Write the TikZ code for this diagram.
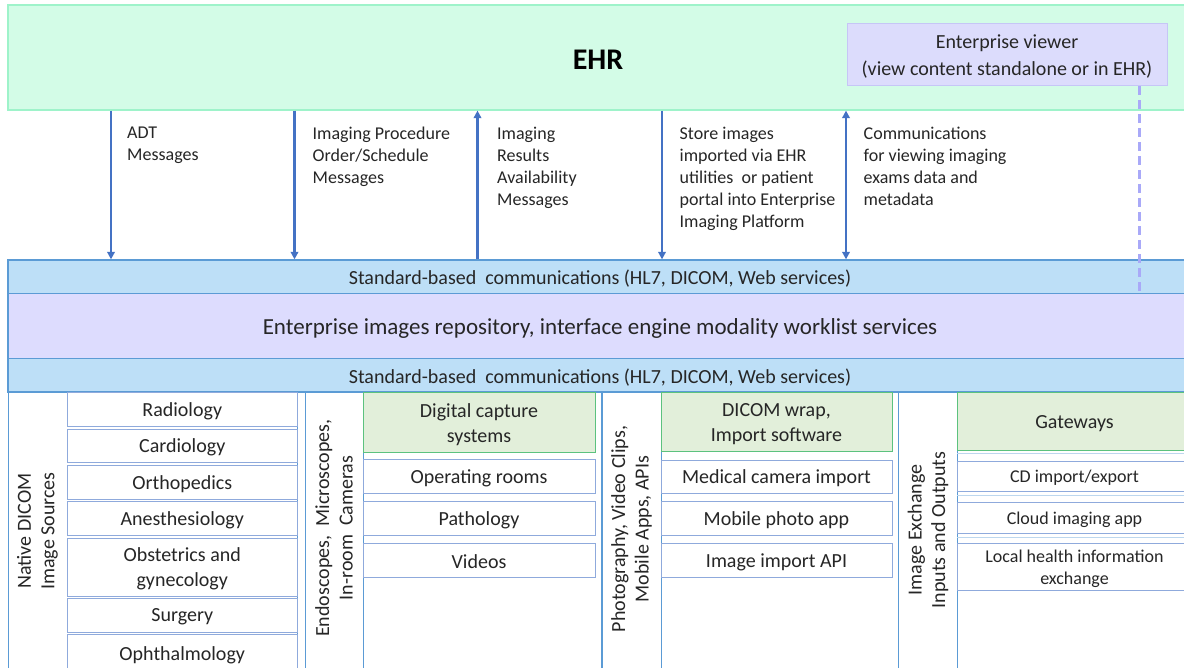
\documentclass[tikz,border=0pt]{standalone}
\usepackage{fontspec}
\setmainfont{Carlito}
\usetikzlibrary{arrows.meta}

\definecolor{ehrfill}{HTML}{D3FCE7}
\definecolor{ehrline}{HTML}{9EF3CA}
\definecolor{viewfill}{HTML}{DCDCFC}
\definecolor{viewline}{HTML}{C6C6F6}
\definecolor{arrowblue}{HTML}{4472C4}
\definecolor{dashpurple}{HTML}{A9A9F8}
\definecolor{bandfill}{HTML}{BDDFF7}
\definecolor{bandline}{HTML}{5B9BD5}
\definecolor{repofill}{HTML}{DDDCFE}
\definecolor{greenfill}{HTML}{E2EFDA}
\definecolor{greenline}{HTML}{5CC27E}
\definecolor{itemline}{HTML}{8FAADC}
\definecolor{colline}{HTML}{5B9BD5}
\definecolor{faintline}{HTML}{BDD7EE}
\definecolor{textgray}{HTML}{262626}

% rectangle from its two corners, with its text set slightly low so the
% capitals sit on the middle: name, style, x1, y1, x2, y2, text
\newcommand\boxnode[7]{%
  \node[#2, minimum width={#5-#3}, minimum height={#6-#4}] (#1)
    at ({(#3+#5)/2},{(#4+#6)/2}) {};
  \node[#2, draw=none, fill=none, minimum width=0pt, minimum height=0pt]
    (#1-text) at ([yshift=-2pt]#1.center) {#7};}

\tikzset{
  cell/.style={draw, rectangle, inner sep=0pt, align=center, text=textgray},
  ehrbox/.style={cell, fill=ehrfill, draw=ehrline, line width=1.2pt},
  viewbox/.style={cell, fill=viewfill, draw=viewline, line width=1pt,
    font=\fontsize{20}{27}\selectfont},
  band/.style={cell, fill=bandfill, draw=bandline, line width=1.3pt,
    font=\fontsize{20}{24}\selectfont},
  repo/.style={cell, fill=repofill, draw=bandline, line width=1.3pt,
    font=\fontsize{23}{27}\selectfont},
  item/.style={cell, draw=itemline, line width=1pt,
    font=\fontsize{20}{24.5}\selectfont},
  smallitem/.style={item, font=\fontsize{18}{22.5}\selectfont},
  greenbox/.style={cell, fill=greenfill, draw=greenline, line width=1pt,
    font=\fontsize{20}{24.5}\selectfont},
  colframe/.style={cell, draw=colline, line width=1pt},
  sidelabel/.style={rotate=90, align=center, inner sep=0pt, text=textgray,
    font=\fontsize{20}{23.5}\selectfont},
  msg/.style={anchor=north west, align=left, inner sep=0pt, text=textgray,
    font=\fontsize{18}{22}\selectfont},
  flow/.style={draw=arrowblue, line width=2.2pt,
    arrows={-Triangle[width=7.5pt,length=7.5pt]}},
  flowboth/.style={flow, arrows={Triangle[width=7.5pt,length=7.5pt]-Triangle[width=7.5pt,length=7.5pt]}},
  viewlink/.style={draw=dashpurple, line width=2.4pt, dash pattern=on 9pt off 5pt},
  faintrow/.style={draw=faintline, line width=1pt},
}

\begin{document}
\begin{tikzpicture}[x=1pt, y=-1pt]
\useasboundingbox (0,0) rectangle (1184,668);
\clip (0,0) rectangle (1184,668);
\fill[white] (0,0) rectangle (1184,668);

% EHR layer and the enterprise viewer inside it
\boxnode{ehr}{ehrbox}{8}{5}{1192}{110}{}
\node[text=black, font=\fontsize{30}{34}\bfseries] (ehrlabel) at (598,60) {EHR};
\boxnode{viewer}{viewbox}{847}{24}{1167}{86}{Enterprise viewer\\(view content standalone or in EHR)}

% communication and repository layers
\boxnode{std1}{band}{8}{260}{1192}{293.5}{Standard-based\ \ communications (HL7, DICOM, Web services)}
\boxnode{repo}{repo}{8}{293.5}{1192}{358.5}{Enterprise images repository, interface engine modality worklist services}
\boxnode{std2}{band}{8}{358.5}{1192}{392}{Standard-based\ \ communications (HL7, DICOM, Web services)}

% message flows between EHR and the platform
\coordinate (x1) at (111,0);
\coordinate (x2) at (294.5,0);
\coordinate (x3) at (477.5,0);
\coordinate (x4) at (662,0);
\coordinate (x5) at (846,0);
\coordinate (x6) at (1139.5,0);
\draw[flow] (ehr.south -| x1) -- (std1.north -| x1);
\draw[flow] (ehr.south -| x2) -- (std1.north -| x2);
\draw[flow] (std1.north -| x3) -- (ehr.south -| x3);
\draw[flow] (ehr.south -| x4) -- (std1.north -| x4);
\draw[flowboth] (ehr.south -| x5) -- (std1.north -| x5);
\draw[viewlink] (viewer.south -| x6) -- (std1.south -| x6);

\node[msg] (m1) at (127,127) {ADT\\Messages};
\node[msg] (m2) at (312.5,127) {Imaging Procedure\\Order/Schedule\\Messages};
\node[msg] (m3) at (497,127) {Imaging\\Results\\Availability\\Messages};
\node[msg] (m4) at (679.5,127) {Store images\\imported via EHR\\utilities\ \ or patient\\portal into Enterprise\\Imaging Platform};
\node[msg] (m5) at (863.5,127) {Communications\\for viewing imaging\\exams data and\\metadata};

% column 1: native DICOM sources
\boxnode{c1}{colframe}{8}{392}{297.5}{672}{}
\node[sidelabel] (c1lab) at (37.5,531) {Native DICOM\\Image Sources};
\boxnode{rad}{item}{67}{393}{297.5}{426}{Radiology}
\boxnode{card}{item}{67}{429}{297.5}{462.5}{Cardiology}
\boxnode{orth}{item}{67}{465}{297.5}{499}{Orthopedics}
\boxnode{anes}{item}{67}{501.5}{297.5}{535.5}{Anesthesiology}
\boxnode{obst}{item}{67}{538}{297.5}{596}{Obstetrics and\\gynecology}
\boxnode{surg}{item}{67}{598}{297.5}{632}{Surgery}
\boxnode{opht}{item}{67}{634}{297.5}{672}{Ophthalmology}

% column 2: endoscopes, microscopes, cameras
\boxnode{c2}{colframe}{305}{392}{601}{672}{}
\draw[draw=colline, line width=1pt] (c2.north -| 363,0) -- (c2.south -| 363,0);
\node[sidelabel] (c2lab) at (334,528) {Endoscopes,\ \ Microscopes,\\In-room\ \ Cameras};
\boxnode{dcs}{greenbox}{363}{393}{595}{452}{Digital capture\\systems}
\boxnode{oper}{item}{363}{459}{595}{493}{Operating rooms}
\boxnode{path}{item}{363}{501}{595}{535.5}{Pathology}
\boxnode{vid}{item}{363}{543}{595}{577}{Videos}

% column 3: photography, clips, apps
\boxnode{c3}{colframe}{602}{392}{898.5}{672}{}
\draw[draw=colline, line width=1pt] (c3.north -| 661,0) -- (c3.south -| 661,0);
\node[sidelabel] (c3lab) at (631.5,529) {Photography, Video Clips,\\Mobile Apps, APIs};
\boxnode{wrap}{greenbox}{661}{393}{892}{451}{DICOM wrap,\\Import software}
\boxnode{medcam}{item}{661}{460}{892}{493}{Medical camera import}
\boxnode{mobile}{item}{661}{501}{892}{535.5}{Mobile photo app}
\boxnode{imgapi}{item}{661}{543}{892}{577}{Image import API}

% column 4: image exchange
\boxnode{c4}{colframe}{898.5}{392}{1192}{672}{}
\draw[draw=colline, line width=1pt] (c4.north -| 957,0) -- (c4.south -| 957,0);
\node[sidelabel] (c4lab) at (928,530) {Image Exchange\\Inputs and Outputs};
\boxnode{gw}{greenbox}{957}{393}{1192}{450.5}{Gateways}
\draw[faintrow] (957,453) -- (1184,453);
\draw[faintrow] (957,495) -- (1184,495);
\draw[faintrow] (957,537) -- (1184,537);
\boxnode{cd}{smallitem}{957}{461}{1192}{491}{CD import/export}
\boxnode{cloud}{smallitem}{957}{502}{1192}{533}{Cloud imaging app}
\boxnode{hie}{smallitem}{957}{543}{1192}{590.5}{Local health information\\exchange}
\end{tikzpicture}
\end{document}
